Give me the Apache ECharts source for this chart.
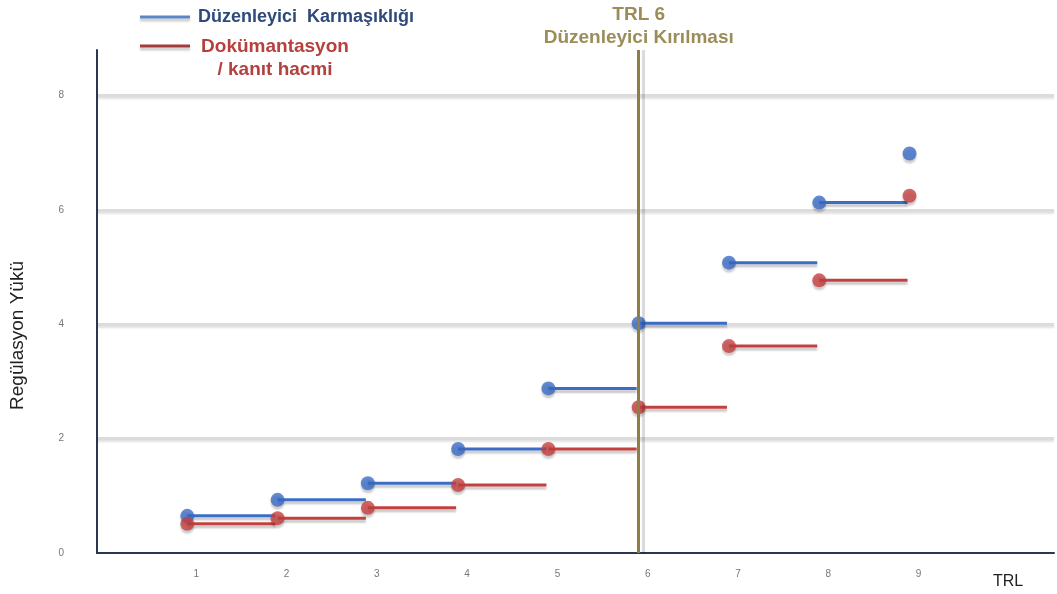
<!DOCTYPE html>
<html>
<head>
<meta charset="utf-8">
<script src="https://cdn.jsdelivr.net/npm/echarts@6/dist/echarts.min.js"></script>
<style>
  html, body { margin: 0; padding: 0; background: #ffffff; }
  #chart { width: 1057px; height: 594px; }
</style>
</head>
<body>
<div id="chart"></div>
<script>
// TRL levels on the x axis
const trlLevels = [1, 2, 3, 4, 5, 6, 7, 8, 9];
// Regulatory complexity per TRL
const complexity = [0.65, 0.93, 1.22, 1.82, 2.88, 4.02, 5.08, 6.13, 6.99];
// Documentation / evidence volume per TRL
const documentation = [0.51, 0.61, 0.79, 1.19, 1.82, 2.55, 3.62, 4.77, 6.25];
// Tick labels
const xTickLabels = ['1', '2', '3', '4', '5', '6', '7', '8', '9'];
const yTickLabels = ['0', '2', '4', '6', '8'];
// Regulatory break point
const breakTrl = 6;

const BLUE = '#3b6cc6';
const RED = '#c4403e';
const FONT = '"Liberation Sans", Arial, sans-serif';

// Each level holds its value until the next level: [x, y, xNext]
function steps(values) {
  const out = [];
  for (let i = 0; i < trlLevels.length - 1; i++) {
    out.push([trlLevels[i], values[i], trlLevels[i + 1]]);
  }
  return out;
}

function stepRenderer(color) {
  return function (params, api) {
    const p1 = api.coord([api.value(0), api.value(1)]);
    const p2 = api.coord([api.value(2), api.value(1)]);
    return {
      type: 'line',
      shape: { x1: p1[0], y1: p1[1], x2: p2[0] - 2, y2: p2[1] },
      style: {
        stroke: color,
        lineWidth: 3,
        shadowColor: 'rgba(0,0,0,0.22)',
        shadowBlur: 2,
        shadowOffsetY: 3
      }
    };
  };
}

const chart = echarts.init(document.getElementById('chart'));

chart.setOption({
  backgroundColor: '#ffffff',
  animation: false,
  grid: { left: 97, right: 0, top: 50, bottom: 41 },
  xAxis: {
    type: 'value',
    min: 0,
    max: 10.6,
    interval: 1,
    name: 'TRL',
    nameLocation: 'end',
    nameGap: -61,
    nameTextStyle: {
      fontFamily: FONT, fontSize: 16, color: '#222',
      align: 'left', verticalAlign: 'top', padding: [21, 0, 0, 0]
    },
    axisLine: { lineStyle: { color: '#2b3650', width: 2 } },
    axisTick: { show: false },
    splitLine: { show: false },
    axisLabel: {
      margin: 16,
      fontFamily: FONT, fontSize: 10, color: '#777',
      padding: [0, 0, 0, 18],
      formatter: function (v) {
        const i = trlLevels.indexOf(v);
        return i >= 0 ? xTickLabels[i] : '';
      }
    }
  },
  yAxis: {
    type: 'value',
    min: 0,
    max: 8.8,
    interval: 2,
    name: 'Regülasyon Yükü',
    nameLocation: 'middle',
    nameGap: 70,
    nameTextStyle: { fontFamily: FONT, fontSize: 19, color: '#222', padding: [0, 68, 0, 0] },
    axisLine: { show: true, lineStyle: { color: '#2b3650', width: 2 } },
    axisTick: { show: false },
    axisLabel: {
      margin: 33,
      fontFamily: FONT, fontSize: 10, color: '#777',
      showMaxLabel: false,
      formatter: function (v) {
        const s = String(v);
        return yTickLabels.indexOf(s) >= 0 ? s : '';
      }
    },
    splitLine: {
      show: true,
      lineStyle: {
        color: ['rgba(0,0,0,0)', '#dcdcdc', '#dcdcdc', '#dcdcdc', '#dcdcdc', 'rgba(0,0,0,0)'],
        width: 3,
        shadowColor: 'rgba(0,0,0,0.12)',
        shadowBlur: 2,
        shadowOffsetY: 2
      }
    }
  },
  graphic: [
    {
      type: 'line', shape: { x1: 140, y1: 17, x2: 190, y2: 17 },
      style: { stroke: '#5a86c6', lineWidth: 3, shadowColor: 'rgba(0,0,0,0.2)', shadowBlur: 2, shadowOffsetY: 3 }
    },
    {
      type: 'text', x: 198, y: 17,
      style: {
        text: 'Düzenleyici  Karmaşıklığı', fill: '#2d4a78', font: 'bold 18px ' + FONT,
        verticalAlign: 'middle'
      }
    },
    {
      type: 'line', shape: { x1: 140, y1: 46, x2: 190, y2: 46 },
      style: { stroke: '#a63a3a', lineWidth: 3, shadowColor: 'rgba(0,0,0,0.2)', shadowBlur: 2, shadowOffsetY: 3 }
    },
    {
      type: 'text', x: 275, y: 35,
      style: {
        text: 'Dokümantasyon\n/ kanıt hacmi', fill: '#b5403e', font: 'bold 19px ' + FONT,
        align: 'center', lineHeight: 23
      }
    }
  ],
  series: [
    {
      name: 'Düzenleyici Karmaşıklığı segments',
      type: 'custom',
      z: 2,
      renderItem: stepRenderer(BLUE),
      data: steps(complexity),
      markLine: {
        silent: true,
        symbol: 'none',
        lineStyle: {
          color: '#8c7e45', width: 3, type: 'solid',
          shadowColor: 'rgba(0,0,0,0.15)', shadowOffsetX: 5, shadowBlur: 1
        },
        label: {
          show: true,
          position: 'end',
          distance: 1,
          formatter: 'TRL 6\nDüzenleyici Kırılması',
          color: '#9a8d58',
          fontFamily: FONT,
          fontSize: 19,
          fontWeight: 'bold',
          lineHeight: 23
        },
        data: [{ xAxis: breakTrl }]
      }
    },
    {
      name: 'Dokümantasyon / kanıt hacmi segments',
      type: 'custom',
      z: 2,
      renderItem: stepRenderer(RED),
      data: steps(documentation)
    },
    {
      name: 'Düzenleyici Karmaşıklığı',
      type: 'scatter',
      z: 3,
      symbolSize: 14,
      itemStyle: { color: BLUE, shadowColor: 'rgba(0,0,0,0.25)', shadowBlur: 2, shadowOffsetY: 3 },
      data: trlLevels.map((t, i) => [t, complexity[i]])
    },
    {
      name: 'Dokümantasyon / kanıt hacmi',
      type: 'scatter',
      z: 3,
      symbolSize: 14,
      itemStyle: { color: RED, shadowColor: 'rgba(0,0,0,0.25)', shadowBlur: 2, shadowOffsetY: 3 },
      data: trlLevels.map((t, i) => [t, documentation[i]])
    }
  ]
});
</script>
</body>
</html>
